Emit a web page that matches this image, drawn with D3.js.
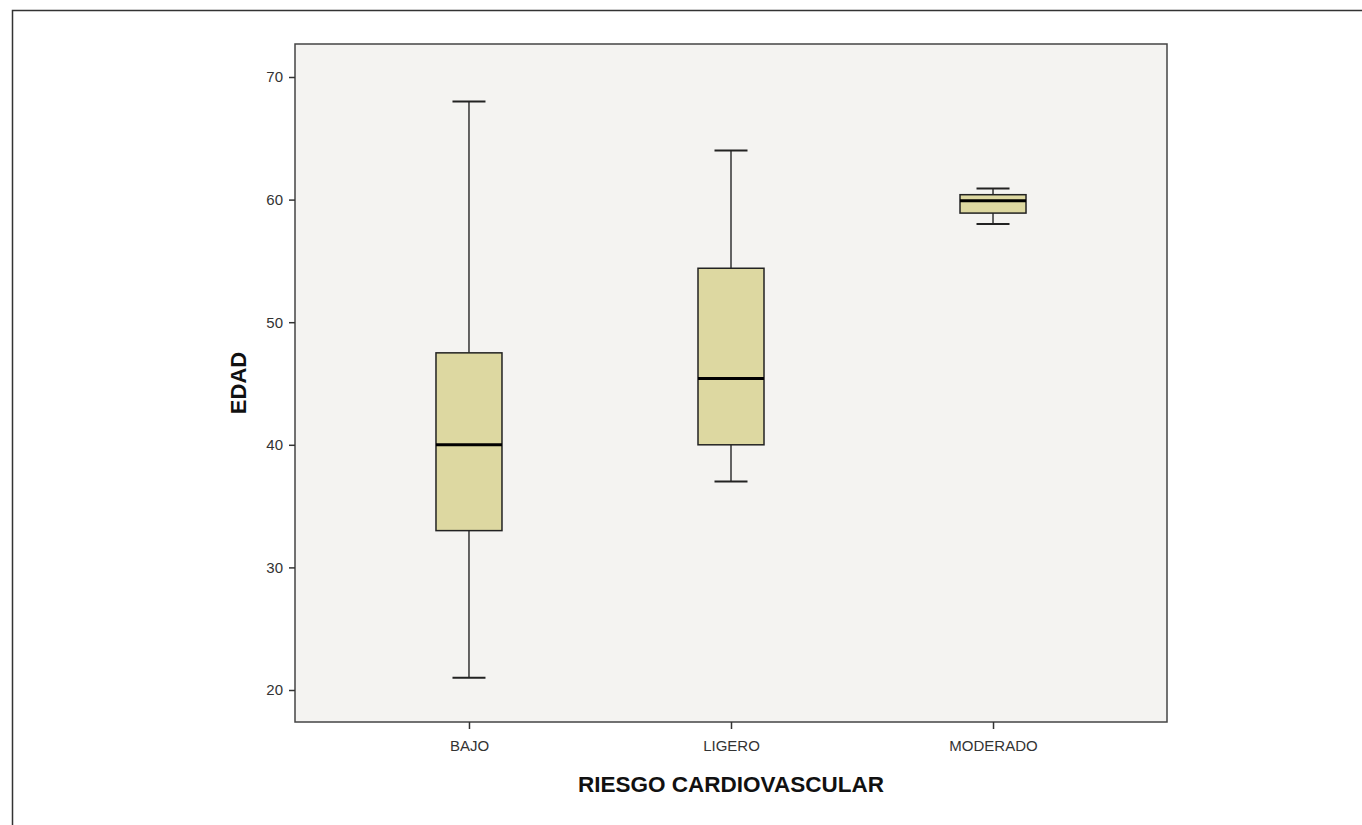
<!DOCTYPE html>
<html lang="es">
<head>
<meta charset="UTF-8">
<script src="https://d3js.org/d3.v7.min.js"></script>
<style>
  body { margin: 0; background: #fff; font-family: Arial, "Liberation Sans", sans-serif; }
</style>
</head>
<body>
<svg id="chart" width="1362" height="825"></svg>
<script>
// datos
const categorias = ["BAJO", "LIGERO", "MODERADO"];
const minimos  = [21, 37, 58];
const q1       = [33, 40, 58.9];
const medianas = [40, 45.4, 59.9];
const q3       = [47.5, 54.4, 60.4];
const maximos  = [68, 64, 60.9];
const yTicks = [20, 30, 40, 50, 60, 70];

const data = categorias.map((c, i) => ({
  cat: c, min: minimos[i], q1: q1[i], med: medianas[i], q3: q3[i], max: maximos[i]
}));

const svg = d3.select("#chart");

// marco exterior (solo arriba e izquierda visibles)
svg.append("path")
  .attr("d", "M12.5,825 L12.5,10.5 L1362,10.5")
  .attr("fill", "none")
  .attr("stroke", "#333")
  .attr("stroke-width", 1.5);

const plot = { left: 295, right: 1167, top: 44, bottom: 722 };

const y = d3.scaleLinear()
  .domain([20 - 32 / 12.26, 70 + 33 / 12.26])
  .range([plot.bottom, plot.top]);

const x = d3.scalePoint()
  .domain(categorias)
  .range([plot.left, plot.right])
  .padding(0.664);

// fondo del area de grafico
svg.append("rect")
  .attr("x", plot.left)
  .attr("y", plot.top)
  .attr("width", plot.right - plot.left)
  .attr("height", plot.bottom - plot.top)
  .attr("fill", "#f4f3f1")
  .attr("stroke", "#444")
  .attr("stroke-width", 1.5);

// eje Y
const gy = svg.append("g")
  .attr("transform", `translate(${plot.left},0)`)
  .call(d3.axisLeft(y).tickValues(yTicks).tickSize(6).tickPadding(6));
gy.select(".domain").remove();
gy.selectAll("line").attr("stroke", "#333").attr("stroke-width", 1.5);
gy.selectAll("text").attr("fill", "#333").style("font-size", "15px").style("font-family", "Arial, sans-serif");

// eje X
const gx = svg.append("g")
  .attr("transform", `translate(0,${plot.bottom})`)
  .call(d3.axisBottom(x).tickSize(7).tickPadding(11));
gx.select(".domain").remove();
gx.selectAll("line").attr("stroke", "#333").attr("stroke-width", 1.5);
gx.selectAll("text").attr("fill", "#333").style("font-size", "15px").style("font-family", "Arial, sans-serif");

// cajas
const boxW = 66, capW = 33;
const g = svg.selectAll(".box").data(data).enter().append("g").attr("class", "box");

g.append("line")
  .attr("x1", d => x(d.cat)).attr("x2", d => x(d.cat))
  .attr("y1", d => y(d.max)).attr("y2", d => y(d.q3))
  .attr("stroke", "#333").attr("stroke-width", 1.5);
g.append("line")
  .attr("x1", d => x(d.cat)).attr("x2", d => x(d.cat))
  .attr("y1", d => y(d.q1)).attr("y2", d => y(d.min))
  .attr("stroke", "#333").attr("stroke-width", 1.5);
g.append("line")
  .attr("x1", d => x(d.cat) - capW / 2).attr("x2", d => x(d.cat) + capW / 2)
  .attr("y1", d => y(d.max)).attr("y2", d => y(d.max))
  .attr("stroke", "#222").attr("stroke-width", 2);
g.append("line")
  .attr("x1", d => x(d.cat) - capW / 2).attr("x2", d => x(d.cat) + capW / 2)
  .attr("y1", d => y(d.min)).attr("y2", d => y(d.min))
  .attr("stroke", "#222").attr("stroke-width", 2);
g.append("rect")
  .attr("x", d => x(d.cat) - boxW / 2)
  .attr("y", d => y(d.q3))
  .attr("width", boxW)
  .attr("height", d => y(d.q1) - y(d.q3))
  .attr("fill", "#ddd8a1")
  .attr("stroke", "#222").attr("stroke-width", 1.5);
g.append("line")
  .attr("x1", d => x(d.cat) - boxW / 2).attr("x2", d => x(d.cat) + boxW / 2)
  .attr("y1", d => y(d.med)).attr("y2", d => y(d.med))
  .attr("stroke", "#000").attr("stroke-width", 3);

// titulos de ejes
svg.append("text")
  .attr("transform", `translate(246,${(plot.top + plot.bottom) / 2}) rotate(-90)`)
  .attr("text-anchor", "middle")
  .style("font-size", "22px").style("font-weight", "bold")
  .attr("fill", "#111")
  .text("EDAD");

svg.append("text")
  .attr("x", (plot.left + plot.right) / 2)
  .attr("y", 792)
  .attr("text-anchor", "middle")
  .style("font-size", "22.5px").style("font-weight", "bold")
  .attr("fill", "#111")
  .text("RIESGO CARDIOVASCULAR");
</script>
</body>
</html>
